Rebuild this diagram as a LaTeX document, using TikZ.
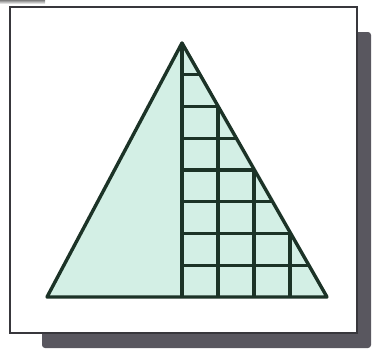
\documentclass[tikz,border=0pt]{standalone}
\usepackage{tikz}
\usetikzlibrary{calc}
\definecolor{mint}{HTML}{D3EFE5}
\definecolor{ink}{HTML}{1C3327}
\definecolor{shade}{HTML}{59575F}
\definecolor{rim}{HTML}{38373C}
\tikzset{
    shadowbox/.style={
        fill=shade,
        rounded corners=3pt
    },
    card/.style={
        draw=rim,
        line width=2.4pt,
        fill=white
    },
    face/.style={
        fill=mint
    },
    gridline/.style={
        draw=ink,
        line width=3.2pt
    },
    outline/.style={
        draw=ink,
        line width=3.4pt,
        line join=round
    }
}
\begin{document}
\begin{tikzpicture}[x=1pt,y=-1pt]
\useasboundingbox (0,0) rectangle (378,357);

% card and its shadow
\fill[shade] (0,0) rectangle (45,4);
\path[shadowbox] (42,32) rectangle (371,348);
\path[card] (10,7) rectangle (357,333);

% triangle
\coordinate (apex) at (182,43);
\coordinate (left) at (47,297);
\coordinate (right) at (327,297);
\path[face] (apex) -- (left) -- (right) -- cycle;

% grid on the right half
\begin{scope}
    \clip (apex) -- (182,297) -- (right) -- cycle;
    \foreach \k in {1,...,7}
        \draw[gridline] (182,{43+31.75*\k}) -- (340,{43+31.75*\k});
    \foreach \j in {1,2,3}
        \draw[gridline] ({182+36*\j},30) -- ({182+36*\j},300);
\end{scope}
\draw[gridline] (apex) -- (182,297);
\draw[outline] (apex) -- (left) -- (right) -- cycle;

\end{tikzpicture}
\end{document}
